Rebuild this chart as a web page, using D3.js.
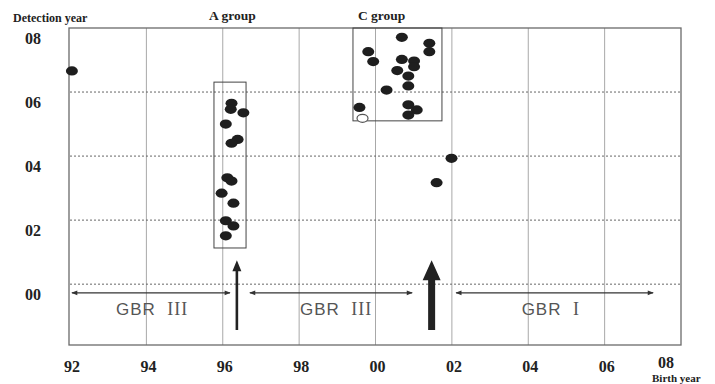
<!DOCTYPE html>
<html>
<head>
<meta charset="utf-8">
<script src="https://cdn.jsdelivr.net/npm/d3@7"></script>
<style>
  body { margin: 0; background: #fff; }
  svg { display: block; }
</style>
</head>
<body>
<div id="chart"></div>
<script>
// birth year / detection year of each case
const groupA = [
  [1996.23, 2005.65], [1996.21, 2005.46], [1996.54, 2005.35], [1996.08, 2005.00],
  [1996.39, 2004.52], [1996.23, 2004.40], [1996.12, 2003.32], [1996.23, 2003.22],
  [1995.97, 2002.84], [1996.28, 2002.53], [1996.08, 2001.98], [1996.28, 2001.82],
  [1996.08, 2001.51]
]
const groupC = [
  [2000.69, 2007.71], [2001.41, 2007.52], [2001.41, 2007.26], [1999.81, 2007.26],
  [1999.94, 2006.95], [2000.69, 2007.02], [2001.01, 2006.97], [2001.01, 2006.79],
  [2000.57, 2006.67], [2000.86, 2006.50], [2000.29, 2006.06], [2000.86, 2006.19],
  [1999.58, 2005.52], [2000.86, 2005.60], [2001.08, 2005.44], [2000.86, 2005.28]
]
const otherCases = [[1992.05, 2006.66], [2001.99, 2003.93], [2001.60, 2003.17]]
const openCases = [[1999.66, 2005.18]]

// group boxes in axis units, label starts at labelB
const groupBoxes = [
  { label: 'A group', labelB: 1995.64, b0: 1995.77, b1: 1996.61, d0: 2001.13, d1: 2006.31 },
  { label: 'C group', labelB: 1999.54, b0: 1999.41, b1: 2001.74, d0: 2005.10, d1: 2008.0 }
]

// GBR periods along the birth axis
const periods = [
  { name: 'GBR', num: 'III', from: 1992.05, to: 1996.19, mid: 1994.15 },
  { name: 'GBR', num: 'III', from: 1996.71, to: 2000.96, mid: 1998.97 },
  { name: 'GBR', num: 'I', from: 2002.11, to: 2007.27, mid: 2004.59 }
]
const periodLevel = 1999.73
const periodTextLevel = 1999.17

// upward arrows (thin, thick)
const upArrows = [
  { b: 1996.37, from: 1998.57, to: 2000.75, thick: false },
  { b: 2001.47, from: 1998.57, to: 2000.75, thick: true }
]

const xTicks = [1992, 1994, 1996, 1998, 2000, 2002, 2004, 2006, 2008]
const yTicks = [2000, 2002, 2004, 2006, 2008]
const twoDigit = v => String(v % 100).padStart(2, '0')

const width = 715, height = 384
const svg = d3.select('#chart').append('svg')
  .attr('width', width).attr('height', height)

const x = d3.scaleLinear().domain([1992, 2008]).range([70, 681])
const y = d3.scaleLinear().domain([1998.1, 2008]).range([345, 28])

const serif = '"Liberation Serif", "DejaVu Serif", serif'
const sans = '"Liberation Sans", Arial, sans-serif'

// vertical grid
svg.append('g').selectAll('line')
  .data(xTicks.slice(1, -1))
  .join('line')
  .attr('x1', d => x(d)).attr('x2', d => x(d))
  .attr('y1', y(2008)).attr('y2', y(1998.1))
  .attr('stroke', '#a8a8a8').attr('stroke-width', 1)

// horizontal dotted grid
svg.append('g').selectAll('line')
  .data(yTicks.slice(0, -1))
  .join('line')
  .attr('x1', x(1992)).attr('x2', x(2008))
  .attr('y1', d => y(d)).attr('y2', d => y(d))
  .attr('stroke', '#666').attr('stroke-width', 1)
  .attr('stroke-dasharray', '2,2')

// frame
svg.append('rect')
  .attr('x', x(1992) - 1).attr('y', y(2008))
  .attr('width', x(2008) - x(1992) + 1).attr('height', y(1998.1) - y(2008))
  .attr('fill', 'none').attr('stroke', '#6a6a6a').attr('stroke-width', 1.3)

// group boxes
svg.append('g').selectAll('rect')
  .data(groupBoxes)
  .join('rect')
  .attr('x', d => x(d.b0)).attr('y', d => y(d.d1))
  .attr('width', d => x(d.b1) - x(d.b0)).attr('height', d => y(d.d0) - y(d.d1))
  .attr('fill', 'none').attr('stroke', '#444').attr('stroke-width', 1)

svg.append('g').selectAll('text')
  .data(groupBoxes)
  .join('text')
  .attr('x', d => x(d.labelB)).attr('y', 20)
  .attr('font-family', serif).attr('font-weight', 'bold').attr('font-size', 13.5)
  .attr('fill', '#222')
  .text(d => d.label)

// dots
const dots = groupA.concat(groupC, otherCases)
svg.append('g').selectAll('ellipse')
  .data(dots)
  .join('ellipse')
  .attr('cx', d => x(d[0])).attr('cy', d => y(d[1]))
  .attr('rx', 6).attr('ry', 4.6)
  .attr('fill', '#1e1e1e')

svg.append('g').selectAll('ellipse')
  .data(openCases)
  .join('ellipse')
  .attr('cx', d => x(d[0])).attr('cy', d => y(d[1]))
  .attr('rx', 5.5).attr('ry', 4)
  .attr('fill', '#fff').attr('stroke', '#555').attr('stroke-width', 1.2)

// period arrows
const defs = svg.append('defs')
defs.append('marker')
  .attr('id', 'hd').attr('viewBox', '0 0 10 10')
  .attr('refX', 9).attr('refY', 5)
  .attr('markerWidth', 7).attr('markerHeight', 5)
  .attr('orient', 'auto-start-reverse')
  .append('path').attr('d', 'M0,1L10,5L0,9Z').attr('fill', '#333')

svg.append('g').selectAll('line')
  .data(periods)
  .join('line')
  .attr('x1', d => x(d.from)).attr('x2', d => x(d.to))
  .attr('y1', y(periodLevel)).attr('y2', y(periodLevel))
  .attr('stroke', '#333').attr('stroke-width', 1.2)
  .attr('marker-start', 'url(#hd)').attr('marker-end', 'url(#hd)')

const pt = svg.append('g').selectAll('text')
  .data(periods)
  .join('text')
  .attr('x', d => x(d.mid)).attr('y', y(periodTextLevel))
  .attr('text-anchor', 'middle').attr('dominant-baseline', 'middle')
  .attr('fill', '#555').attr('font-size', 17)
pt.append('tspan').attr('font-family', sans).attr('letter-spacing', 1)
  .text(d => d.name + '\u00a0\u00a0')
pt.append('tspan').attr('font-family', serif).attr('font-size', 18).attr('letter-spacing', 1)
  .text(d => d.num)

// upward arrows
upArrows.forEach(a => {
  const cx = x(a.b), yb = y(a.from), yt = y(a.to)
  const shaft = a.thick ? 7 : 2.6
  const headW = a.thick ? 18 : 9
  const headH = a.thick ? 20 : 11
  const p = d3.path()
  p.moveTo(cx - shaft / 2, yb)
  p.lineTo(cx - shaft / 2, yt + headH)
  p.lineTo(cx - headW / 2, yt + headH)
  p.lineTo(cx, yt)
  p.lineTo(cx + headW / 2, yt + headH)
  p.lineTo(cx + shaft / 2, yt + headH)
  p.lineTo(cx + shaft / 2, yb)
  p.closePath()
  svg.append('path').attr('d', p.toString()).attr('fill', '#222')
})

// x tick labels (last one sits left, above the axis title)
const lastX = xTicks[xTicks.length - 1]
svg.append('g').selectAll('text')
  .data(xTicks)
  .join('text')
  .attr('x', d => d === lastX ? x(d) - 15 : x(d) + 2)
  .attr('y', d => d === lastX ? 368 : 372)
  .attr('text-anchor', 'middle')
  .attr('font-family', serif).attr('font-weight', 'bold').attr('font-size', 16)
  .attr('fill', '#222')
  .text(twoDigit)

// y tick labels
svg.append('g').selectAll('text')
  .data(yTicks)
  .join('text')
  .attr('x', 33).attr('y', d => y(d) + 16)
  .attr('text-anchor', 'middle')
  .attr('font-family', serif).attr('font-weight', 'bold').attr('font-size', 16)
  .attr('fill', '#222')
  .text(twoDigit)

svg.append('text')
  .attr('x', 13).attr('y', 22)
  .attr('font-family', serif).attr('font-weight', 'bold').attr('font-size', 12)
  .attr('fill', '#222')
  .text('Detection year')

svg.append('text')
  .attr('x', 652).attr('y', 382)
  .attr('font-family', serif).attr('font-weight', 'bold').attr('font-size', 11)
  .attr('fill', '#222')
  .text('Birth year')
</script>
</body>
</html>
